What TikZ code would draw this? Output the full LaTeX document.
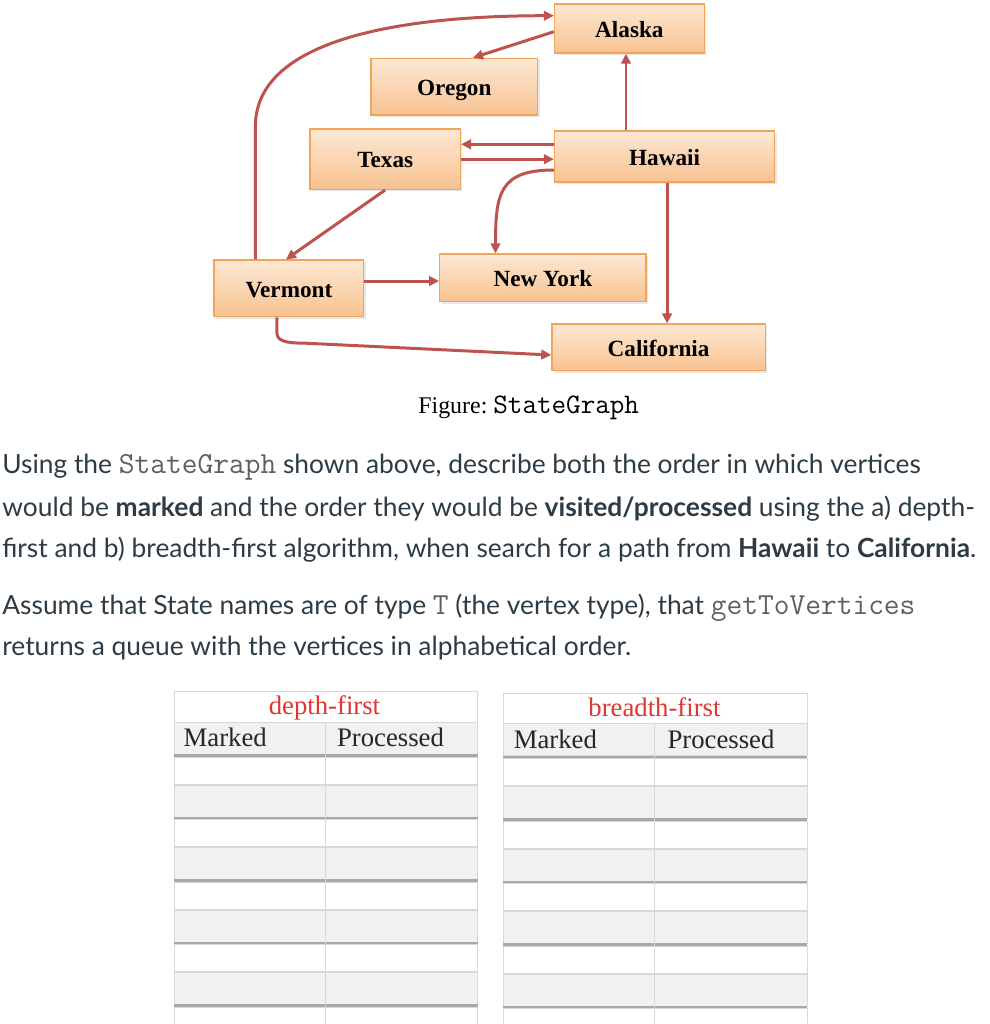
\documentclass[tikz,border=0pt]{standalone}
\usepackage{fontspec}
\setmainfont{Lato}
\newfontfamily\serifface{Liberation Serif}
\usetikzlibrary{arrows.meta,shadows}

\definecolor{statetop}{RGB}{252,232,212}
\definecolor{statebottom}{RGB}{248,194,144}
\definecolor{stateborder}{RGB}{242,164,88}
\definecolor{edgered}{RGB}{190,82,78}
\definecolor{promptgray}{RGB}{45,59,69}
\definecolor{codegray}{RGB}{95,95,95}
\definecolor{gridline}{RGB}{216,216,216}
\definecolor{bandgray}{RGB}{241,241,241}
\definecolor{shadowgray}{RGB}{168,168,168}
\definecolor{titlered}{RGB}{226,52,48}
\newcommand{\codetext}[2][17.4]{{\ttfamily\fontsize{#1}{#1}\selectfont #2}}

\begin{document}
\begin{tikzpicture}[x=1cm,y=1cm,
  state/.style={draw=stateborder,line width=0.7pt,top color=statetop,bottom color=statebottom,inner sep=0pt,text height=12pt,text depth=2.1pt,font=\serifface\bfseries\fontsize{13.2}{15}\selectfont,drop shadow={opacity=0.18,shadow xshift=0.04cm,shadow yshift=-0.04cm}},
  edge/.style={draw=edgered,line width=1.7pt,-{Triangle[length=0.2cm,width=0.19cm]}},
  prompt/.style={anchor=base west,inner sep=0pt,text=promptgray,font=\fontsize{15}{18}\selectfont},
  cell/.style={anchor=base west,inner sep=0pt,text=black!85,font=\serifface\fontsize{15.2}{17}\selectfont},
  heading/.style={anchor=base,inner sep=0pt,text=titlered,font=\serifface\fontsize{15.2}{17}\selectfont}]
\useasboundingbox (0,0) rectangle (19.8,-20.48);
% states
\node[state,minimum width=2.996cm,minimum height=0.98cm] (state-alaska) at (12.588,-0.57) {Alaska};
\node[state,minimum width=3.332cm,minimum height=1.134cm] (state-oregon) at (9.086,-1.734) {Oregon};
\node[state,minimum width=3.008cm,minimum height=1.206cm] (state-texas) at (7.704,-3.184) {Texas};
\node[state,minimum width=4.404cm,minimum height=1.02cm] (state-hawaii) at (13.292,-3.13) {Hawaii};
\node[state,minimum width=2.994cm,minimum height=1.134cm] (state-vermont) at (5.778,-5.768) {Vermont};
\node[state,minimum width=4.126cm,minimum height=0.954cm] (state-new-york) at (10.858,-5.558) {New York};
\node[state,minimum width=4.268cm,minimum height=0.934cm] (state-california) at (13.172,-6.948) {California};
% edges
\draw[edge] ([xshift=-0.67cm]state-vermont.north) -- ++(0,2.66) .. controls +(0,1.74) and +(-3.08,0) .. ([yshift=0.256cm]state-alaska.west);
\draw[edge] ([yshift=-0.064cm]state-alaska.west) -- ([xshift=0.374cm]state-oregon.north);
\draw[edge] ([xshift=-0.772cm]state-hawaii.north) -- ([xshift=-0.772cm]state-hawaii.north |- state-alaska.south);
\draw[edge] ([yshift=0.244cm]state-hawaii.west) -- ([yshift=0.244cm]state-hawaii.west -| state-texas.east);
\draw[edge] (state-texas.east) -- (state-texas.east -| state-hawaii.west);
\draw[edge] ([yshift=-0.27cm]state-hawaii.west) .. controls +(-1.09,0) and +(0,1.2) .. ([xshift=-0.948cm]state-new-york.north);
\draw[edge] ([xshift=0.05cm]state-hawaii.south) -- ([xshift=0.05cm]state-hawaii.south |- state-california.north);
\draw[edge] (state-texas.south) -- ([xshift=-0.06cm]state-vermont.north);
\draw[edge] ([yshift=0.148cm]state-vermont.east) -- ([yshift=0.148cm]state-vermont.east -| state-new-york.west);
\draw[edge] ([xshift=-0.24cm]state-vermont.south) -- ++(0,-0.306) .. controls +(0,-0.16) and +(-0.4,0) .. ++(0.56,-0.21) -- ([yshift=-0.152cm]state-california.west);
\node[anchor=base west,inner sep=0pt,font=\serifface\fontsize{13.6}{16}\selectfont] (figure-caption) at (8.36,-8.266) {Figure:\ \codetext[16.1]{StateGraph}};
% question text
\node[prompt] (prompt-line-0) at (0.04,-9.466) {Using the \textcolor{codegray}{\codetext{StateGraph}} shown above, describe both the order in which vertices};
\node[prompt] (prompt-line-1) at (0.04,-10.32) {would be \textbf{marked} and the order they would be \textbf{visited/processed} using the a) depth-};
\node[prompt] (prompt-line-2) at (0.04,-11.146) {first and b) breadth-first algorithm, when search for a path from \textbf{Hawaii} to \textbf{California}.};
\node[prompt] (prompt-line-3) at (0.04,-12.286) {Assume that State names are of type \textcolor{codegray}{\codetext{T}} (the vertex type), that \textcolor{codegray}{\codetext{getToVertices}}};
\node[prompt] (prompt-line-4) at (0.04,-13.1) {returns a queue with the vertices in alphabetical order.};
% depth-first table
\path[fill=white,draw=gridline,line width=0.5pt] (3.48,-13.834) rectangle (9.556,-14.446);
\path[fill=bandgray,draw=gridline,line width=0.5pt] (3.48,-14.446) rectangle (9.556,-15.08);
\path[fill=white,draw=gridline,line width=0.5pt] (3.48,-15.14) rectangle (9.556,-15.68) (3.48,-16.39) rectangle (9.556,-16.93) (3.48,-17.64) rectangle (9.556,-18.18) (3.48,-18.89) rectangle (9.556,-19.43) (3.48,-20.14) rectangle (9.556,-20.6);
\path[fill=bandgray,draw=gridline,line width=0.5pt] (3.48,-15.7) rectangle (9.556,-16.34) (3.48,-16.95) rectangle (9.556,-17.59) (3.48,-18.2) rectangle (9.556,-18.84) (3.48,-19.45) rectangle (9.556,-20.09);
\path[draw=shadowgray,line width=1.5pt] (3.48,-15.11) -- (9.556,-15.11) (3.48,-16.36) -- (9.556,-16.36) (3.48,-17.61) -- (9.556,-17.61) (3.48,-18.86) -- (9.556,-18.86) (3.48,-20.11) -- (9.556,-20.11);
\path[draw=gridline,line width=0.5pt] (6.5,-14.446) -- (6.5,-20.6);
\node[heading] (dfs-title) at (6.49,-14.286) {depth-first};
\node[cell] (dfs-marked) at (3.666,-14.934) {Marked};
\node[cell] (dfs-processed) at (6.734,-14.934) {Processed};
% breadth-first table
\path[fill=white,draw=gridline,line width=0.5pt] (10.06,-13.864) rectangle (16.14,-14.476);
\path[fill=bandgray,draw=gridline,line width=0.5pt] (10.06,-14.476) rectangle (16.14,-15.11);
\path[fill=white,draw=gridline,line width=0.5pt] (10.06,-15.17) rectangle (16.14,-15.71) (10.06,-16.42) rectangle (16.14,-16.96) (10.06,-17.67) rectangle (16.14,-18.21) (10.06,-18.92) rectangle (16.14,-19.46) (10.06,-20.17) rectangle (16.14,-20.6);
\path[fill=bandgray,draw=gridline,line width=0.5pt] (10.06,-15.73) rectangle (16.14,-16.37) (10.06,-16.98) rectangle (16.14,-17.62) (10.06,-18.23) rectangle (16.14,-18.87) (10.06,-19.48) rectangle (16.14,-20.12);
\path[draw=shadowgray,line width=1.5pt] (10.06,-15.14) -- (16.14,-15.14) (10.06,-16.39) -- (16.14,-16.39) (10.06,-17.64) -- (16.14,-17.64) (10.06,-18.89) -- (16.14,-18.89) (10.06,-20.14) -- (16.14,-20.14);
\path[draw=gridline,line width=0.5pt] (13.09,-14.476) -- (13.09,-20.6);
\node[heading] (bfs-title) at (13.09,-14.32) {breadth-first};
\node[cell] (bfs-marked) at (10.27,-14.96) {Marked};
\node[cell] (bfs-processed) at (13.344,-14.96) {Processed};
\end{tikzpicture}
\end{document}
